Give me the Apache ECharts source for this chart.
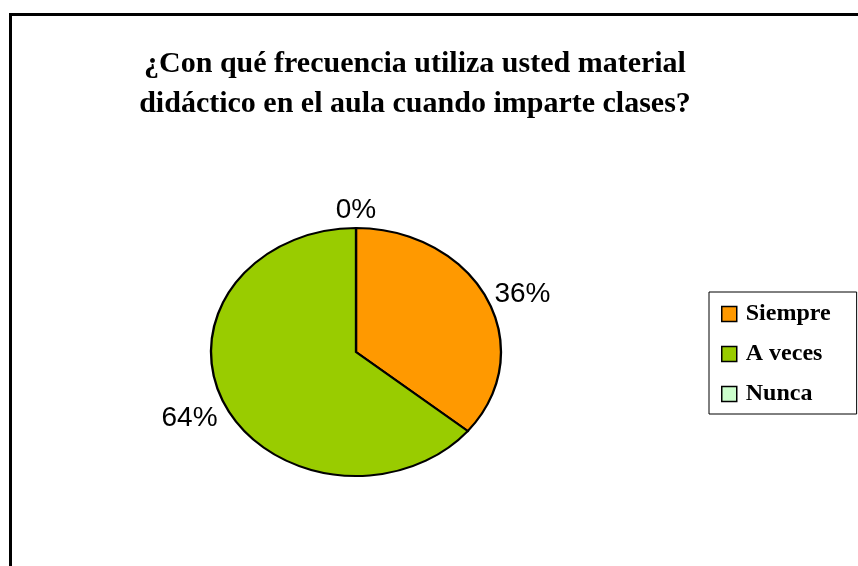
<!DOCTYPE html>
<html>
<head>
<meta charset="utf-8">
<title>Material didáctico</title>
<script src="https://cdn.jsdelivr.net/npm/echarts@6/dist/echarts.min.js"></script>
<style>
  html, body { margin: 0; padding: 0; background: #fff; }
  #container { width: 858px; height: 566px; }
</style>
</head>
<body>
<div id="container"></div>
<script>
// datos del gráfico
var categories = ['Siempre', 'A veces', 'Nunca'];
var percents = [36, 64, 0];
var colors = ['#FF9900', '#99CC00', '#CCFFCC'];
var titleText = '¿Con qué frecuencia utiliza usted material\ndidáctico en el aula cuando imparte clases?';

var myChart = echarts.init(document.getElementById('container'));

// geometría de la elipse (el pastel de Excel no es circular)
var cx = 356, cy = 352, rx = 145, ry = 124;
var total = percents.reduce(function (a, b) { return a + b; }, 0);

function startOf(idx) {
	var s = 0;
	for (var i = 0; i < idx; i++) s += percents[i];
	return s;
}

function makeSeries(idx) {
	return {
		name: categories[idx],
		type: 'custom',
		coordinateSystem: 'none',
		itemStyle: { color: colors[idx] },
		data: [[percents[idx]]],
		renderItem: function (params, api) {
			var v = api.value(0);
			var a0 = startOf(idx) / total * Math.PI * 2;
			var a1 = a0 + v / total * Math.PI * 2;
			var mid = (a0 + a1) / 2;
			var sn = Math.sin(mid), cs = Math.cos(mid);
			// posición de la etiqueta fuera de la elipse
			var d = 9;
			var lx = cx + (rx + d) * sn + sn * 30;
			var ly = cy - (ry + d) * cs - cs * 13 + 4;
			var children = [];
			if (v > 0) {
				children.push({
					type: 'group',
					x: cx,
					y: cy,
					scaleX: rx / ry,
					children: [{
						type: 'sector',
						shape: {
							cx: 0, cy: 0, r: ry, r0: 0,
							startAngle: a0 - Math.PI / 2,
							endAngle: a1 - Math.PI / 2,
							clockwise: true
						},
						style: {
							fill: colors[idx],
							stroke: '#000',
							lineWidth: 2,
							strokeNoScale: true
						}
					}]
				});
			}
			children.push({
				type: 'text',
				x: lx,
				y: ly,
				style: {
					text: Math.round(v) + '%',
					fill: '#000',
					font: '28px "Liberation Sans", Arial, sans-serif',
					align: 'center',
					verticalAlign: 'middle'
				}
			});
			return { type: 'group', children: children };
		}
	};
}

myChart.setOption({
	animation: false,
	title: {
		text: titleText,
		left: 410,
		textAlign: 'center',
		top: 39,
		textStyle: {
			fontFamily: '"Liberation Serif", "Times New Roman", serif',
			fontWeight: 'bold',
			fontSize: 30,
			lineHeight: 40,
			color: '#000'
		}
	},
	legend: {
		orient: 'vertical',
		left: 709,
		top: 292,
		data: categories,
		icon: 'rect',
		itemWidth: 15,
		itemHeight: 15,
		itemGap: 16,
		padding: [10, 26, 8, 12],
		borderColor: '#000',
		borderWidth: 1,
		selectedMode: false,
		itemStyle: { borderColor: '#000', borderWidth: 1.5 },
		textStyle: {
			fontFamily: '"Liberation Serif", "Times New Roman", serif',
			fontWeight: 'bold',
			fontSize: 24,
			lineHeight: 24,
			padding: [0, 0, 0, 4],
			color: '#000'
		}
	},
	graphic: [{
		type: 'rect',
		shape: { x: 10.5, y: 14.5, width: 900, height: 600 },
		style: { fill: 'none', stroke: '#000', lineWidth: 3 },
		silent: true
	}],
	series: [makeSeries(0), makeSeries(1), makeSeries(2)]
});
</script>
</body>
</html>
